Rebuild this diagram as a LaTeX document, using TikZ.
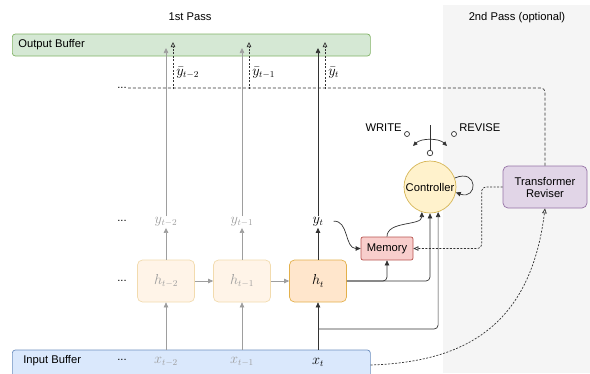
\documentclass[tikz,border=0pt]{standalone}
\usepackage{amsmath}
\usepackage{fontspec}
\setmainfont{Liberation Sans}
\usepackage{tikz}
\usetikzlibrary{arrows.meta,positioning,calc}

\definecolor{outfill}{HTML}{D5E8D4}
\definecolor{outline}{HTML}{82B366}
\definecolor{infill}{HTML}{DAE8FC}
\definecolor{inline}{HTML}{6C8EBF}
\definecolor{hfill}{HTML}{FFE6CC}
\definecolor{hline}{HTML}{E3B04B}
\definecolor{memfill}{HTML}{F8CECC}
\definecolor{memline}{HTML}{B85450}
\definecolor{ctrlfill}{HTML}{FFF2CC}
\definecolor{ctrlline}{HTML}{D6B656}
\definecolor{revfill}{HTML}{E1D5E7}
\definecolor{revline}{HTML}{9673A6}
\definecolor{passgray}{HTML}{F5F5F5}
\definecolor{fadegray}{HTML}{9E9E9E}
\definecolor{darkline}{HTML}{333333}

\begin{document}
\begin{tikzpicture}[x=1pt,y=-1pt,font=\fontsize{11.2}{13}\selectfont,line width=0.7pt,
  buffer/.style={rounded corners=3pt,minimum height=30pt,inner sep=0pt},
  state/.style={draw=hline,fill=hfill,rounded corners=5pt,minimum width=57pt,minimum height=42pt,font=\fontsize{13.5}{15}\selectfont},
  faded/.style={draw=hline!45,fill=hfill!45,rounded corners=5pt,minimum width=57pt,minimum height=42pt,text=fadegray,font=\fontsize{13.5}{15}\selectfont},
  blank/.style={inner sep=1pt},
  mathlabel/.style={inner sep=1pt,font=\fontsize{13.5}{15}\selectfont},
  fadetext/.style={mathlabel,text=fadegray},
  port/.style={circle,draw=darkline,fill=white,inner sep=0pt,minimum size=5.5pt},
  edge/.style={draw=darkline,-{Triangle[length=5pt,width=4.5pt]}},
  fadeedge/.style={draw=fadegray,-{Triangle[length=5pt,width=4.5pt]}},
  alternate/.style={draw=darkline,dash pattern=on 2pt off 1.5pt,-{Triangle[open,length=5pt,width=4.5pt]}}]
\useasboundingbox (0,0) rectangle (590,373);
\clip (0,0) rectangle (590,373);
\fill[passgray] (443,5) rectangle (590,373);

\node (pass1)[blank] at (190,17) {1st Pass};
\node (pass2)[blank] at (517,18) {2nd Pass (optional)};

% buffers
\node (outbuf)[buffer,draw=outline,fill=outfill,minimum width=358pt,minimum height=22pt,anchor=west] at (12,45) {};
\node (outtxt)[blank,anchor=west] at (17,45) {Output Buffer};
\node (inbuf)[buffer,draw=inline,fill=infill,minimum width=358pt,anchor=west] at (12,365) {};
\node (intxt)[blank,anchor=west] at (22,361) {Input Buffer};

% columns
\node (xt2)[fadetext] at (166,362) {$x_{t-2}$};
\node (xt1)[fadetext] at (242,362) {$x_{t-1}$};
\node (xt)[mathlabel] at (318,362) {$x_t$};
\node (ht2)[faded] at (166,281) {$h_{t-2}$};
\node (ht1)[faded] at (242,281) {$h_{t-1}$};
\node (ht)[state] at (318,281) {$h_t$};
\node (yt2)[fadetext] at (166,222) {$y_{t-2}$};
\node (yt1)[fadetext] at (242,222) {$y_{t-1}$};
\node (yt)[mathlabel] at (318,222) {$y_t$};

\node (dotsx)[blank] at (122,360) {...};
\node (dotsh)[blank] at (122,281) {...};
\node (dotsy)[blank] at (122,221) {...};
\node (dotsb)[blank] at (122,88) {...};

\node (yb2)[mathlabel,anchor=west] at (175,73) {$\bar{y}_{t-2}$};
\node (yb1)[mathlabel,anchor=west] at (251,73) {$\bar{y}_{t-1}$};
\node (yb)[mathlabel,anchor=west] at (327,73) {$\bar{y}_t$};

% controller side
\node (mem)[draw=memline,fill=memfill,rounded corners=2pt,minimum width=52pt,minimum height=23pt] at (387,248.5) {Memory};
\node (ctrl)[circle,draw=ctrlline,fill=ctrlfill,minimum size=52pt,inner sep=0pt] at (430,187) {Controller};
\node (rev)[draw=revline,fill=revfill,rounded corners=5pt,minimum width=84pt,minimum height=42pt,align=center] at (545,187) {Transformer\\[-1pt]Reviser};

\node (cport)[port] at (430,153) {};
\node (wport)[port,minimum size=5pt] at (407,134) {};
\node (rport)[port,minimum size=5pt] at (454,134) {};
\node (write)[blank,anchor=east] at (403,128) {WRITE};
\node (revise)[blank,anchor=west] at (458,128) {REVISE};
\coordinate (ctop) at (430,125);
\coordinate (swl) at (413,146);
\coordinate (swr) at (447,146);

\coordinate (xsplit) at (318,329);
\coordinate (br2) at (173,89);
\coordinate (br1) at (249,89);
\coordinate (br) at (325,89);

% faded columns
\draw [fadeedge] (xt2 |- inbuf.north) to (ht2);
\draw [fadeedge] (xt1 |- inbuf.north) to (ht1);
\draw [fadeedge] (ht2) to (yt2);
\draw [fadeedge] (ht1) to (yt1);
\draw [fadeedge] (ht2) to (ht1);
\draw [fadeedge] (ht1) to (ht);
\draw [fadeedge] (yt2) to ($(yt2 |- outbuf.center)+(0,3)$);
\draw [fadeedge] (yt1) to ($(yt1 |- outbuf.center)+(0,3)$);

% current column
\draw [edge] (xt |- inbuf.north) to (ht);
\draw [edge] (ht) to (yt);
\draw [edge] (yt) to ($(yt |- outbuf.center)+(0,3)$);
\draw [edge,rounded corners=4pt] (ht.east) -| (ctrl.south);
\draw [edge,rounded corners=4pt] (ht.east) -| (mem.south);
\draw [edge,rounded corners=4pt] (xsplit) -| (ctrl.-72);
\draw [edge] (mem.north) .. controls +(0,-16) and +(0,14) .. (ctrl.-108);
\draw [edge,shorten <=9pt] (yt.east) .. controls +(24,-2) and +(-16,0) .. (mem.west);
\draw [edge] (ctrl.20) .. controls +(24,-10) and +(22,8) .. (ctrl.-12);

% switch
\draw [darkline] (cport) to (ctop);
\draw [darkline,{Triangle[length=4.5pt,width=4pt]}-{Triangle[length=4.5pt,width=4pt]}] (swl) .. controls +(8,-8) and +(-8,-8) .. (swr);

% second pass
\draw [alternate,-,dash pattern=on 3pt off 2pt,rounded corners=4pt] (rev.north) |- (dotsb.east);
\draw [alternate] (br2) to ($(br2 |- outbuf.center)+(0,-3)$);
\draw [alternate] (br1) to ($(br1 |- outbuf.center)+(0,-3)$);
\draw [alternate] (br) to ($(br |- outbuf.center)+(0,-3)$);
\draw [alternate,rounded corners=4pt] (rev.west) -- ++(-21,0) |- (mem.east);
\draw [alternate] (inbuf.east) .. controls (460,362) and (530,330) .. (rev.south);
\end{tikzpicture}
\end{document}
